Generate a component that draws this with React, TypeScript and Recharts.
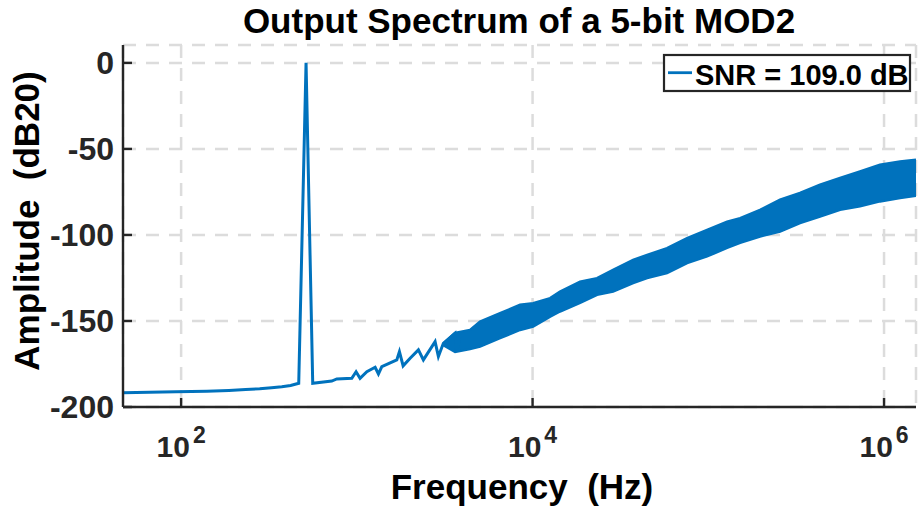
import {
  ComposedChart,
  Line,
  Area,
  XAxis,
  YAxis,
  CartesianGrid,
} from "recharts";

// ── spectrum readings ────────────────────────
// tone + low-frequency floor (individual FFT bins)
const lineFreq = [
  46.7, 93.4, 140, 187, 233, 280, 327, 374, 420, 467, 514, 561, 720, 769, 936,
  990, 1043, 1140, 1271, 1327, 1387, 1688, 1747, 1834, 2010, 2240, 2391, 2788,
  2911, 3107, 3621, 3703, 3866,
];
const lineAmp = [
  -191.7, -191.2, -190.8, -190.4, -189.9, -189.4, -188.8, -188.2, -187.5,
  -186.2, 0, -186.2, -184.9, -183.7, -183.3, -179.5, -183.3, -179.5, -176.9,
  -180.8, -176.6, -172.6, -167.8, -176.1, -171.7, -166.8, -172.6, -162, -170.7,
  -163, -157.1, -167.8, -158.1,
];

// shaped noise band (envelope of the dense bins)
const bandFreq = [
  3107, 3622, 4406, 5024, 6531, 8491, 10070, 12590, 14330, 18630, 23270, 28710,
  37320, 44850, 58230, 75700, 98400, 127900, 151700, 196900, 256000, 332500,
  432300, 562000, 730000, 948000, 1233000, 1520000,
];
const bandHi = [
  -163.0, -156.9, -155.2, -150.4, -145.5, -140.6, -139.7, -136.7, -132.9,
  -127.1, -125.1, -120.3, -114.5, -111.6, -107.7, -101.8, -97.0, -92.3, -90.2,
  -85.4, -79.5, -75.6, -70.8, -66.9, -63.1, -59.2, -57.3, -56.3,
];
const bandLo = [
  -164.0, -168.0, -166.3, -164.9, -160.0, -155.2, -153.3, -147.5, -144.5,
  -139.5, -134.8, -132.9, -128.0, -125.1, -122.2, -116.4, -112.5, -107.5,
  -104.6, -100.9, -98.0, -93.1, -89.3, -85.4, -83.4, -80.5, -78.6, -77.2,
];

const xTicks = [1e2, 1e4, 1e6];
const yTicks = [-200, -150, -100, -50, 0];
const xDomain = [46.7, 1.52e6];
const yDomain = [-200, 10.4];

const lineData = lineFreq.map((f, i) => ({ freq: f, amp: lineAmp[i] }));
const bandData = bandFreq.map((f, i) => ({ freq: f, lo: bandLo[i], hi: bandHi[i] }));

const BLUE = "#0072BD";
const AXIS = "#262626";
const FONT = "'Liberation Sans', Arial, Helvetica, sans-serif";

function XTickBottom({ x, y, payload }: any) {
  const exp = Math.round(Math.log10(payload.value));
  return (
    <g>
      <line x1={x} y1={y} x2={x} y2={y - 9} stroke={AXIS} strokeWidth={2.4} />
      <text
        x={x}
        y={y + 50}
        textAnchor="middle"
        fontSize={30}
        fontWeight="bold"
        fontFamily={FONT}
        fill={AXIS}
      >
        10
        <tspan dx={3} dy={-14} fontSize={23}>
          {exp}
        </tspan>
      </text>
    </g>
  );
}

function XTickTop({ x, y }: any) {
  return <line x1={x} y1={y} x2={x} y2={y + 9} stroke={AXIS} strokeWidth={2.4} />;
}

function YTickLeft({ x, y, payload }: any) {
  return (
    <g>
      <line x1={x} y1={y} x2={x + 9} y2={y} stroke={AXIS} strokeWidth={2.4} />
      <text
        x={x - 9}
        y={y + 11}
        textAnchor="end"
        fontSize={32}
        fontWeight="bold"
        fontFamily={FONT}
        fill={AXIS}
      >
        {payload.value}
      </text>
    </g>
  );
}

function YTickRight({ x, y }: any) {
  return <line x1={x} y1={y} x2={x - 9} y2={y} stroke={AXIS} strokeWidth={2.4} />;
}

export default function App() {
  return (
    <div style={{ position: "absolute", left: 0, top: 0, width: 918, height: 514, background: "#fff" }}>
      <ComposedChart width={918} height={514} margin={{ top: 45, right: 2, left: 0, bottom: 0 }}>
        <CartesianGrid stroke="#dcdcdc" strokeWidth={2.5} strokeDasharray="13 10" />
        <XAxis
          dataKey="freq"
          type="number"
          scale="log"
          domain={xDomain}
          ticks={xTicks}
          allowDataOverflow
          height={107}
          tickSize={0}
          tickMargin={0}
          tick={<XTickBottom />}
          axisLine={{ stroke: AXIS, strokeWidth: 2.4 }}
          tickLine={false}
        />
        <XAxis
          xAxisId="top"
          orientation="top"
          dataKey="freq"
          type="number"
          scale="log"
          domain={xDomain}
          ticks={xTicks}
          allowDataOverflow
          height={0}
          tickSize={0}
          tickMargin={0}
          tick={<XTickTop />}
          axisLine={{ stroke: AXIS, strokeWidth: 2.4 }}
          tickLine={false}
        />
        <YAxis
          type="number"
          domain={yDomain}
          ticks={yTicks}
          allowDataOverflow
          width={123}
          tickSize={0}
          tickMargin={0}
          tick={<YTickLeft />}
          axisLine={{ stroke: AXIS, strokeWidth: 2.4 }}
          tickLine={false}
        />
        <YAxis
          yAxisId="right"
          orientation="right"
          type="number"
          domain={yDomain}
          ticks={yTicks}
          allowDataOverflow
          width={0}
          tickSize={0}
          tickMargin={0}
          tick={<YTickRight />}
          axisLine={{ stroke: AXIS, strokeWidth: 2.4 }}
          tickLine={false}
        />
        <Area
          data={bandData}
          dataKey={(d: any) => [d.lo, d.hi]}
          type="linear"
          stroke={BLUE}
          strokeWidth={2.5}
          fill={BLUE}
          fillOpacity={1}
          isAnimationActive={false}
        />
        <Line
          data={lineData}
          dataKey="amp"
          type="linear"
          stroke={BLUE}
          strokeWidth={3}
          dot={false}
          isAnimationActive={false}
        />
      </ComposedChart>
      <svg
        width={918}
        height={514}
        style={{ position: "absolute", left: 0, top: 0, pointerEvents: "none" }}
        fontFamily={FONT}
        fontWeight="bold"
        fill="#000"
      >
        <text x={519} y={33} textAnchor="middle" fontSize={35} xmlSpace="preserve">
          Output Spectrum of a 5-bit MOD2
        </text>
        <text x={522} y={499} textAnchor="middle" fontSize={35} xmlSpace="preserve">
          {"Frequency  (Hz)"}
        </text>
        <text
          x={0}
          y={0}
          transform="translate(39,221) rotate(-90)"
          textAnchor="middle"
          fontSize={35}
          xmlSpace="preserve"
        >
          {"Amplitude  (dB20)"}
        </text>
        {/* legend */}
        <rect x={664} y={55} width={246} height={36} fill="#fff" stroke={AXIS} strokeWidth={2.2} />
        <line x1={668} y1={72.7} x2={692} y2={72.7} stroke={BLUE} strokeWidth={2.8} />
        <text x={695} y={85} fontSize={29}>
          SNR = 109.0 dB
        </text>
      </svg>
    </div>
  );
}
